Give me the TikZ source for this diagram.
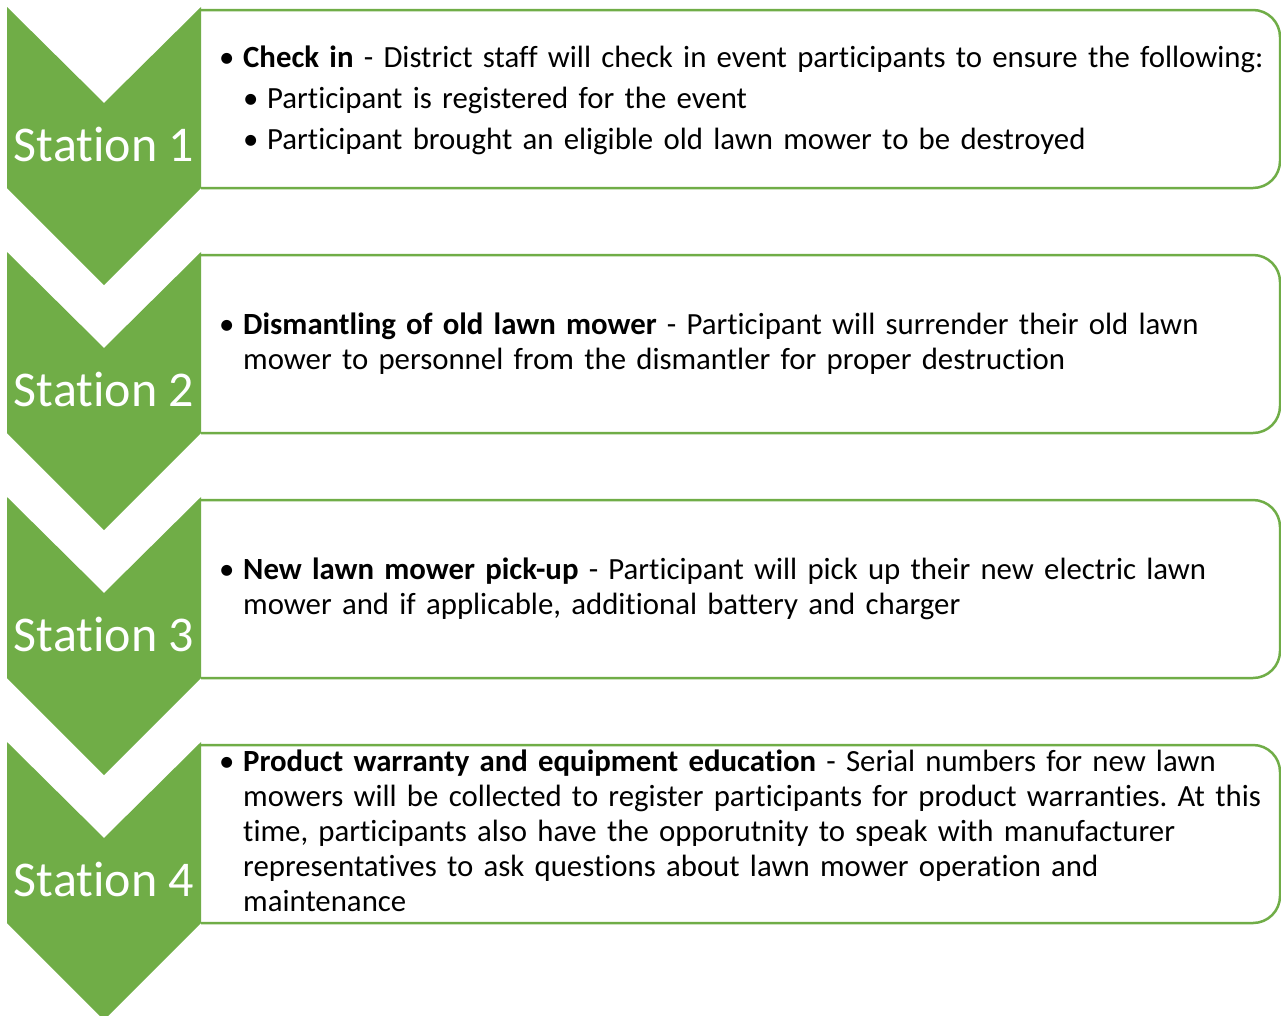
\documentclass[tikz,border=0pt]{standalone}
\usepackage{fontspec}
\setmainfont{Carlito}[Ligatures=NoCommon]
\frenchspacing
\definecolor{leaf}{HTML}{70AD47}
\tikzset{
  chev/.style={fill=leaf,draw=none},
  panel/.style={draw=leaf,line width=2.5pt,fill=white,rounded corners=27pt},
  stlabel/.style={text=white,inner sep=0pt,font=\fontsize{50}{60}\selectfont},
  bodytext/.style={anchor=west,inner sep=0pt,text width=1060pt,font=\fontsize{30.8}{35}\selectfont},
}
\newcommand{\itm}[1]{\par\noindent\makebox[24pt][l]{\textbullet}\parbox[t]{1040pt}{\raggedright #1}\par}
\newcommand{\subitm}[1]{\par\noindent\hspace*{24pt}\makebox[24pt][l]{\textbullet}\parbox[t]{1016pt}{\raggedright #1}\par}
\begin{document}
\begin{tikzpicture}[x=1pt,y=-1pt]
\useasboundingbox (0,0) rectangle (1281,1015);
% station 1
\draw[panel][shift={(0,7)}] (201,3) -- (1280,3) -- (1280,181) -- (201,181);
\fill[chev][shift={(0,7)}] (7,0) -- (104,96) -- (201,0) -- (201,181) -- (104,278) -- (7,181) -- cycle;
\node[stlabel] (st1) at (104,144) {Station 1};
\node[bodytext,font=\fontsize{30.8}{41}\selectfont] (tx1) at (219,91) {\itm{\textbf{Check in} - District staff will check in event participants to ensure the following:}
\subitm{Participant is registered for the event}
\subitm{Participant brought an eligible old lawn mower to be destroyed}};

% station 2
\draw[panel][shift={(0,252)}] (201,3) -- (1280,3) -- (1280,181) -- (201,181);
\fill[chev][shift={(0,252)}] (7,0) -- (104,96) -- (201,0) -- (201,181) -- (104,278) -- (7,181) -- cycle;
\node[stlabel] (st2) at (104,389) {Station 2};
\node[bodytext] (tx2) at (219,337) {\itm{\textbf{Dismantling of old lawn mower} - Participant will surrender their old lawn\\ mower to personnel from the dismantler for proper destruction}};

% station 3
\draw[panel][shift={(0,497)}] (201,3) -- (1280,3) -- (1280,181) -- (201,181);
\fill[chev][shift={(0,497)}] (7,0) -- (104,96) -- (201,0) -- (201,181) -- (104,278) -- (7,181) -- cycle;
\node[stlabel] (st3) at (104,634) {Station 3};
\node[bodytext] (tx3) at (219,582) {\itm{\textbf{New lawn mower pick-up} - Participant will pick up their new electric lawn\\ mower and if applicable, additional battery and charger}};

% station 4
\draw[panel][shift={(0,742)}] (201,3) -- (1280,3) -- (1280,181) -- (201,181);
\fill[chev][shift={(0,742)}] (7,0) -- (104,96) -- (201,0) -- (201,181) -- (104,278) -- (7,181) -- cycle;
\node[stlabel] (st4) at (104,879) {Station 4};
\node[bodytext] (tx4) at (219,824) {\itm{\textbf{Product warranty and equipment education} - Serial numbers for new lawn\\ mowers will be collected to register participants for product warranties. At this\\ time, participants also have the opporutnity to speak with manufacturer\\ representatives to ask questions about lawn mower operation and\\ maintenance}};
\end{tikzpicture}
\end{document}
